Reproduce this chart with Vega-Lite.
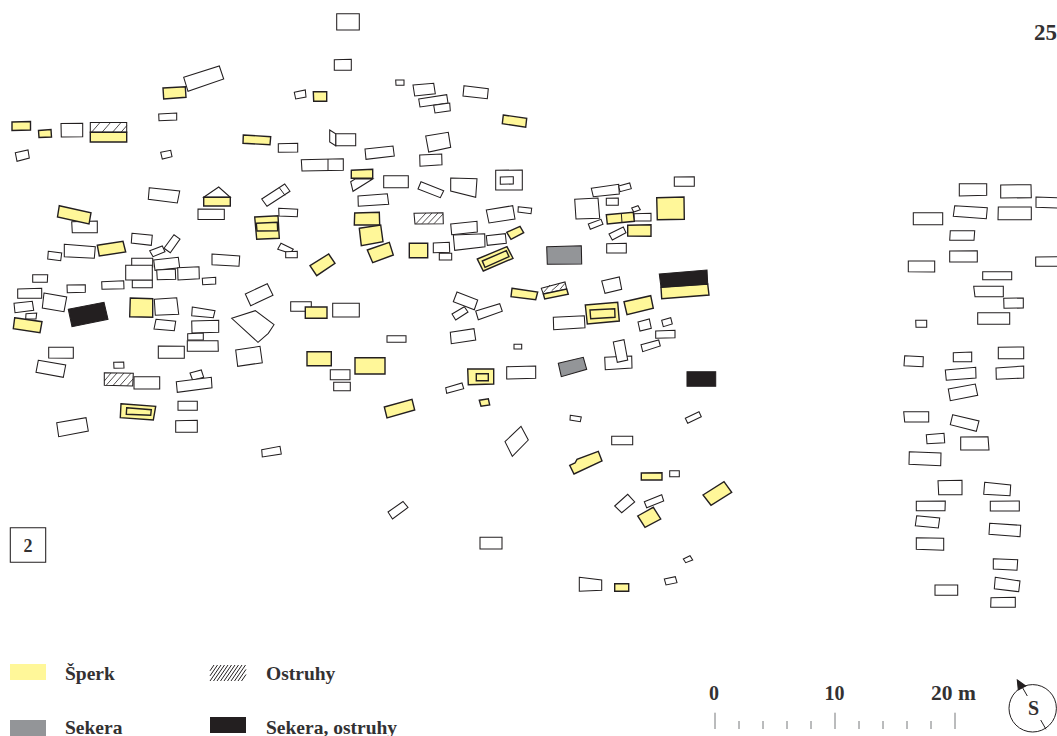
{"$schema":"https://vega.github.io/schema/vega-lite/v6.json","width":1057,"height":736,"padding":0,"autosize":"none","background":"white","config":{"view":{"stroke":null}},"projection":{"type":"identity","scale":1,"translate":[0,0]},"datasets":{"plots":[
{"k":"w","geo":{"type":"Polygon","coordinates":[[[61,123.5],[82.7,123.3],[82.7,136.7],[61.3,137],[61,123.5]]]}},
{"k":"w","geo":{"type":"Polygon","coordinates":[[[15.3,152.7],[28,150],[29.3,158],[17,161.3],[15.3,152.7]]]}},
{"k":"w","geo":{"type":"Polygon","coordinates":[[[183.7,77.3],[219.3,66],[223.7,79],[188,91.3],[183.7,77.3]]]}},
{"k":"w","geo":{"type":"Polygon","coordinates":[[[158.7,114],[176.7,113],[176.7,120],[159,120.7],[158.7,114]]]}},
{"k":"w","geo":{"type":"Polygon","coordinates":[[[160.7,152.3],[170.7,150.3],[172,156.7],[162.3,159],[160.7,152.3]]]}},
{"k":"w","geo":{"type":"Polygon","coordinates":[[[278.3,143.7],[297.7,143.3],[297.7,152],[278.3,152.3],[278.3,143.7]]]}},
{"k":"w","geo":{"type":"Polygon","coordinates":[[[149.3,187.7],[179.7,191],[177.3,203],[148.3,199.3],[149.3,187.7]]]}},
{"k":"w","geo":{"type":"Polygon","coordinates":[[[203.7,197.3],[218.7,187],[230.3,197.3],[203.7,197.3]]]}},
{"k":"w","geo":{"type":"Polygon","coordinates":[[[261.7,199],[284.7,184],[290,191.3],[267,206.3],[261.7,199]]]}},
{"k":"w","geo":{"type":"Polygon","coordinates":[[[294.3,92.3],[305.3,90],[306,97],[295.7,99],[294.3,92.3]]]}},
{"k":"w","geo":{"type":"Polygon","coordinates":[[[198,209],[224.3,209.3],[224.3,219.5],[198,219.5],[198,209]]]}},
{"k":"w","geo":{"type":"Polygon","coordinates":[[[278.7,208.3],[297.7,209.3],[297.3,216.7],[279,216],[278.7,208.3]]]}},
{"k":"w","geo":{"type":"Polygon","coordinates":[[[71.7,221.7],[97.3,221],[97.3,232.7],[72.3,232.7],[71.7,221.7]]]}},
{"k":"w","geo":{"type":"Polygon","coordinates":[[[48.3,251.3],[61.7,253],[60.7,260.7],[47.7,259],[48.3,251.3]]]}},
{"k":"w","geo":{"type":"Polygon","coordinates":[[[64.3,244.3],[95.3,246.7],[94.3,258.3],[64.3,256.7],[64.3,244.3]]]}},
{"k":"w","geo":{"type":"Polygon","coordinates":[[[132,233.3],[152.3,235.3],[151.3,245.3],[131.3,243],[132,233.3]]]}},
{"k":"w","geo":{"type":"Polygon","coordinates":[[[149.7,250.7],[162.3,246],[165,251.7],[153,256.7],[149.7,250.7]]]}},
{"k":"w","geo":{"type":"Polygon","coordinates":[[[164,248.3],[174,234.7],[180,239],[170.3,252.7],[164,248.3]]]}},
{"k":"w","geo":{"type":"Polygon","coordinates":[[[212,254],[239.7,256],[239,266.3],[212,264.7],[212,254]]]}},
{"k":"w","geo":{"type":"Polygon","coordinates":[[[277.7,249.3],[281,243.3],[293.3,249.3],[290,253.3],[277.7,249.3]]]}},
{"k":"w","geo":{"type":"Polygon","coordinates":[[[285.7,251.7],[297.3,251.3],[297.3,257.7],[285.7,257.7],[285.7,251.7]]]}},
{"k":"w","geo":{"type":"Polygon","coordinates":[[[131.7,258.3],[152.7,258.3],[152.7,267],[131.7,267],[131.7,258.3]]]}},
{"k":"w","geo":{"type":"Polygon","coordinates":[[[132.3,280],[152.3,280],[152.3,287.7],[132.3,287.7],[132.3,280]]]}},
{"k":"w","geo":{"type":"Polygon","coordinates":[[[125.7,265.3],[152.3,265.3],[152.3,280],[125.7,280],[125.7,265.3]]]}},
{"k":"w","geo":{"type":"Polygon","coordinates":[[[153.7,260],[178.3,257.3],[179.7,267.7],[155,270.3],[153.7,260]]]}},
{"k":"w","geo":{"type":"Polygon","coordinates":[[[156.7,270],[175.3,269],[175.7,279.3],[157.3,279.7],[156.7,270]]]}},
{"k":"w","geo":{"type":"Polygon","coordinates":[[[177.7,267.7],[199,266.7],[199.3,278.7],[178,280],[177.7,267.7]]]}},
{"k":"w","geo":{"type":"Polygon","coordinates":[[[202.3,278.3],[215.7,277.3],[215.7,284],[202.7,284.7],[202.3,278.3]]]}},
{"k":"w","geo":{"type":"Polygon","coordinates":[[[32.7,274.7],[47.7,274.7],[47.3,282.3],[32.7,282.3],[32.7,274.7]]]}},
{"k":"w","geo":{"type":"Polygon","coordinates":[[[67,285],[85.3,284.7],[85.3,292.3],[67.3,292.7],[67,285]]]}},
{"k":"w","geo":{"type":"Polygon","coordinates":[[[101.7,281.7],[123.7,280.7],[124,288.7],[102,289.3],[101.7,281.7]]]}},
{"k":"w","geo":{"type":"Polygon","coordinates":[[[17.7,289],[41.7,288.3],[41.7,298.3],[17.7,298.3],[17.7,289]]]}},
{"k":"w","geo":{"type":"Polygon","coordinates":[[[14,303.3],[32.3,301.3],[33.7,310.3],[15,312.7],[14,303.3]]]}},
{"k":"w","geo":{"type":"Polygon","coordinates":[[[44,293],[66.7,297],[64,311.7],[42.3,308],[44,293]]]}},
{"k":"w","geo":{"type":"Polygon","coordinates":[[[154.3,299.3],[176.7,297.7],[178.7,314.3],[155.3,315.3],[154.3,299.3]]]}},
{"k":"w","geo":{"type":"Polygon","coordinates":[[[26,313.7],[36.7,313],[36,319],[25.7,318.7],[26,313.7]]]}},
{"k":"w","geo":{"type":"Polygon","coordinates":[[[192.3,307],[215,310.7],[213.3,317.7],[191.7,315.7],[192.3,307]]]}},
{"k":"w","geo":{"type":"Polygon","coordinates":[[[156,319.3],[175.7,321.3],[174.3,330.7],[154,329],[156,319.3]]]}},
{"k":"w","geo":{"type":"Polygon","coordinates":[[[191.7,321],[218.7,320.3],[218.7,332.3],[192,333],[191.7,321]]]}},
{"k":"w","geo":{"type":"Polygon","coordinates":[[[187.7,333.7],[203.3,333],[203.3,340],[187.7,340],[187.7,333.7]]]}},
{"k":"w","geo":{"type":"Polygon","coordinates":[[[187.3,340.7],[218,340.7],[218.3,351.3],[187.3,351.3],[187.3,340.7]]]}},
{"k":"w","geo":{"type":"Polygon","coordinates":[[[245.3,294],[267.3,283.7],[273,295.3],[250.7,305.7],[245.3,294]]]}},
{"k":"w","geo":{"type":"Polygon","coordinates":[[[231.7,318.3],[255.3,310.7],[274,324.7],[268.3,333.3],[258,342.3],[231.7,318.3]]]}},
{"k":"w","geo":{"type":"Polygon","coordinates":[[[235.7,350],[260,346.3],[262.3,362.7],[237.7,366.3],[235.7,350]]]}},
{"k":"w","geo":{"type":"Polygon","coordinates":[[[48.7,347.3],[73.3,347.3],[73.3,358.3],[48.7,358],[48.7,347.3]]]}},
{"k":"w","geo":{"type":"Polygon","coordinates":[[[38.3,360.3],[65.7,365],[63.3,377.3],[36,372.3],[38.3,360.3]]]}},
{"k":"w","geo":{"type":"Polygon","coordinates":[[[113.7,362.3],[123.7,362],[124,368],[114,368.3],[113.7,362.3]]]}},
{"k":"w","geo":{"type":"Polygon","coordinates":[[[158.3,346],[184.3,346.3],[184.3,358.3],[158.3,358.3],[158.3,346]]]}},
{"k":"w","geo":{"type":"Polygon","coordinates":[[[104.3,372.7],[133.3,373.3],[132.7,386],[104.3,385.3],[104.3,372.7]]]}},
{"k":"w","geo":{"type":"Polygon","coordinates":[[[134,376.7],[159.7,376.7],[159.7,389],[134,389],[134,376.7]]]}},
{"k":"w","geo":{"type":"Polygon","coordinates":[[[190,373],[201.3,370],[203.7,377.3],[192.7,380.3],[190,373]]]}},
{"k":"w","geo":{"type":"Polygon","coordinates":[[[176.3,381.7],[211.3,377.3],[212,387.7],[177.3,392.3],[176.3,381.7]]]}},
{"k":"w","geo":{"type":"Polygon","coordinates":[[[178,401.3],[197.3,401.3],[197.3,410.3],[178,410.3],[178,401.3]]]}},
{"k":"w","geo":{"type":"Polygon","coordinates":[[[175.7,420.7],[197.3,420.3],[197.3,432.3],[175.7,432.3],[175.7,420.7]]]}},
{"k":"w","geo":{"type":"Polygon","coordinates":[[[56.7,422.7],[86,417.7],[88.3,431],[58.7,436.7],[56.7,422.7]]]}},
{"k":"w","geo":{"type":"Polygon","coordinates":[[[261.7,449.7],[280,446.3],[281.3,454],[262.3,457],[261.7,449.7]]]}},
{"k":"w","geo":{"type":"Polygon","coordinates":[[[336.7,13.7],[359.3,13.7],[359.3,30],[336.7,30],[336.7,13.7]]]}},
{"k":"w","geo":{"type":"Polygon","coordinates":[[[334.3,59.7],[351.3,59.3],[351.3,70.3],[334.3,70.3],[334.3,59.7]]]}},
{"k":"w","geo":{"type":"Polygon","coordinates":[[[395.7,80],[404,80],[404,85.3],[396,85.3],[395.7,80]]]}},
{"k":"w","geo":{"type":"Polygon","coordinates":[[[413,85],[433.7,83.3],[435.3,93.7],[414.7,96],[413,85]]]}},
{"k":"w","geo":{"type":"Polygon","coordinates":[[[418.7,99],[446.7,94.7],[448,103],[420,107],[418.7,99]]]}},
{"k":"w","geo":{"type":"Polygon","coordinates":[[[433.7,105.3],[449.7,103],[450.3,110.7],[435,113],[433.7,105.3]]]}},
{"k":"w","geo":{"type":"Polygon","coordinates":[[[464,85.7],[488.3,88.7],[487.3,98.7],[463,96],[464,85.7]]]}},
{"k":"w","geo":{"type":"Polygon","coordinates":[[[425.7,136],[448.3,132.3],[450.7,147.3],[428.7,152],[425.7,136]]]}},
{"k":"w","geo":{"type":"Polygon","coordinates":[[[335.7,133.7],[355.7,133.7],[355.7,145.7],[335.7,145.7],[335.7,133.7]]]}},
{"k":"w","geo":{"type":"Polygon","coordinates":[[[329.7,130],[335.7,133.7],[335.7,145.7],[329.7,142],[329.7,130]]]}},
{"k":"w","geo":{"type":"Polygon","coordinates":[[[365,149],[393,146],[394.3,156],[366,159.3],[365,149]]]}},
{"k":"w","geo":{"type":"Polygon","coordinates":[[[419.7,155],[441.7,154],[442,164.7],[420,166.3],[419.7,155]]]}},
{"k":"w","geo":{"type":"Polygon","coordinates":[[[301.3,159.7],[343.3,158.7],[343.3,170.3],[302,171],[301.3,159.7]]]}},
{"k":"w","geo":{"type":"Polygon","coordinates":[[[350.7,181.7],[355,179],[372.7,179],[353,191.3],[350.7,181.7]]]}},
{"k":"w","geo":{"type":"Polygon","coordinates":[[[383.7,175.7],[408.3,175.7],[408.3,187.7],[383.7,187.7],[383.7,175.7]]]}},
{"k":"w","geo":{"type":"Polygon","coordinates":[[[421,181.7],[443.7,190.7],[440.3,197.7],[418,189],[421,181.7]]]}},
{"k":"w","geo":{"type":"Polygon","coordinates":[[[450.7,178],[477,178.7],[475.7,197.3],[450.7,191],[450.7,178]]]}},
{"k":"w","geo":{"type":"Polygon","coordinates":[[[495.7,170.3],[522.3,170],[522.3,190],[495.7,190],[495.7,170.3]]]}},
{"k":"w","geo":{"type":"Polygon","coordinates":[[[500.3,177],[513.3,176.7],[513.3,184],[500.3,184.3],[500.3,177]]]}},
{"k":"w","geo":{"type":"Polygon","coordinates":[[[358,196],[387.3,193.7],[388.7,204.3],[358.3,206.3],[358,196]]]}},
{"k":"w","geo":{"type":"Polygon","coordinates":[[[414,213.3],[443,212.7],[443.3,223.7],[415,224],[414,213.3]]]}},
{"k":"w","geo":{"type":"Polygon","coordinates":[[[486.3,210],[512.7,205.7],[515,219],[489,223],[486.3,210]]]}},
{"k":"w","geo":{"type":"Polygon","coordinates":[[[518.3,206.7],[531.7,208.3],[531,213.7],[518,212],[518.3,206.7]]]}},
{"k":"w","geo":{"type":"Polygon","coordinates":[[[433.3,243],[449.3,242.3],[449.7,252.3],[433.3,252.7],[433.3,243]]]}},
{"k":"w","geo":{"type":"Polygon","coordinates":[[[439.3,253.3],[451.7,253.3],[451.7,260],[439.3,260],[439.3,253.3]]]}},
{"k":"w","geo":{"type":"Polygon","coordinates":[[[450.7,224],[477,221.3],[477.3,232],[451.7,234.7],[450.7,224]]]}},
{"k":"w","geo":{"type":"Polygon","coordinates":[[[453.3,235],[484.7,233.7],[485,246.7],[454.7,250.3],[453.3,235]]]}},
{"k":"w","geo":{"type":"Polygon","coordinates":[[[486.3,235.7],[505.3,233.7],[506.3,243.3],[487.3,245.3],[486.3,235.7]]]}},
{"k":"w","geo":{"type":"Polygon","coordinates":[[[290.7,301.7],[311.3,301.7],[311.3,311.3],[290.7,311.3],[290.7,301.7]]]}},
{"k":"w","geo":{"type":"Polygon","coordinates":[[[332.7,303.3],[359.3,303.3],[359.3,317],[332.7,317],[332.7,303.3]]]}},
{"k":"w","geo":{"type":"Polygon","coordinates":[[[387,335.7],[406,335.7],[406,342.3],[387,342.3],[387,335.7]]]}},
{"k":"w","geo":{"type":"Polygon","coordinates":[[[330.3,369.7],[350,369.7],[350,379.7],[330.3,379.7],[330.3,369.7]]]}},
{"k":"w","geo":{"type":"Polygon","coordinates":[[[333.7,382.3],[350.3,382.3],[350.3,390.7],[333.7,390.7],[333.7,382.3]]]}},
{"k":"w","geo":{"type":"Polygon","coordinates":[[[457,292],[477.7,300],[474.3,309.7],[453.3,301.7],[457,292]]]}},
{"k":"w","geo":{"type":"Polygon","coordinates":[[[452,314],[464.3,306.7],[468,312],[455.7,320],[452,314]]]}},
{"k":"w","geo":{"type":"Polygon","coordinates":[[[475.7,311],[499.7,303.7],[502.3,311.3],[478.3,319.7],[475.7,311]]]}},
{"k":"w","geo":{"type":"Polygon","coordinates":[[[450.3,332.3],[474,328.7],[475.7,340],[451.3,343.7],[450.3,332.3]]]}},
{"k":"w","geo":{"type":"Polygon","coordinates":[[[514,344.3],[521.7,344.3],[521.7,349],[514,349],[514,344.3]]]}},
{"k":"w","geo":{"type":"Polygon","coordinates":[[[506.7,366.7],[535.7,366],[535.7,378.3],[506.7,379],[506.7,366.7]]]}},
{"k":"w","geo":{"type":"Polygon","coordinates":[[[445.7,387.7],[462,383],[463.7,388.7],[446.7,393.3],[445.7,387.7]]]}},
{"k":"w","geo":{"type":"Polygon","coordinates":[[[505,441.7],[521,426.3],[528.3,440],[512.3,456.3],[505,441.7]]]}},
{"k":"w","geo":{"type":"Polygon","coordinates":[[[591.3,188.3],[618.7,184.3],[619.3,194],[593.3,196.7],[591.3,188.3]]]}},
{"k":"w","geo":{"type":"Polygon","coordinates":[[[618.7,186],[629.7,183],[631.3,188.7],[620,191.7],[618.7,186]]]}},
{"k":"w","geo":{"type":"Polygon","coordinates":[[[674.3,177],[694.3,176.7],[694.3,186.3],[674.3,186.3],[674.3,177]]]}},
{"k":"w","geo":{"type":"Polygon","coordinates":[[[574.7,199.3],[598,198],[599.7,218.3],[576,219],[574.7,199.3]]]}},
{"k":"w","geo":{"type":"Polygon","coordinates":[[[606.3,198.3],[618.3,198],[618.3,205.3],[606.3,205.3],[606.3,198.3]]]}},
{"k":"w","geo":{"type":"Polygon","coordinates":[[[631.7,208],[638,205.7],[640.3,209.7],[633.7,212],[631.7,208]]]}},
{"k":"w","geo":{"type":"Polygon","coordinates":[[[634,213.7],[651,213.3],[651,221],[634,221],[634,213.7]]]}},
{"k":"w","geo":{"type":"Polygon","coordinates":[[[588.3,224],[601,219.3],[603,224.3],[590.3,229.3],[588.3,224]]]}},
{"k":"w","geo":{"type":"Polygon","coordinates":[[[609,234],[623.3,227],[626,232.7],[612.3,240],[609,234]]]}},
{"k":"w","geo":{"type":"Polygon","coordinates":[[[606.7,243.7],[626.3,243.3],[626.3,253],[606.7,253],[606.7,243.7]]]}},
{"k":"w","geo":{"type":"Polygon","coordinates":[[[541.3,288.3],[565,282],[566.7,289],[543.3,294],[541.3,288.3]]]}},
{"k":"w","geo":{"type":"Polygon","coordinates":[[[601.7,281],[619.3,277],[621.7,289.3],[605,293.3],[601.7,281]]]}},
{"k":"w","geo":{"type":"Polygon","coordinates":[[[553.3,317.3],[584.3,315.7],[585,327.7],[553.7,329.7],[553.3,317.3]]]}},
{"k":"w","geo":{"type":"Polygon","coordinates":[[[638,322],[649.3,319],[651.3,328.3],[640,331],[638,322]]]}},
{"k":"w","geo":{"type":"Polygon","coordinates":[[[661.7,320.3],[670.7,317.7],[672.3,324],[663.3,326.7],[661.7,320.3]]]}},
{"k":"w","geo":{"type":"Polygon","coordinates":[[[655.7,331],[675,330.3],[675,337.7],[655.7,338.3],[655.7,331]]]}},
{"k":"w","geo":{"type":"Polygon","coordinates":[[[641,344.7],[658.7,340],[660.3,346],[642.7,351.7],[641,344.7]]]}},
{"k":"w","geo":{"type":"Polygon","coordinates":[[[604.7,357.3],[631.7,356],[632,368],[605.3,369.7],[604.7,357.3]]]}},
{"k":"w","geo":{"type":"Polygon","coordinates":[[[613.3,342],[624,339.7],[627.7,360],[617.3,362.3],[613.3,342]]]}},
{"k":"w","geo":{"type":"Polygon","coordinates":[[[570.3,415.3],[581.3,417],[580.3,421.7],[570,420],[570.3,415.3]]]}},
{"k":"w","geo":{"type":"Polygon","coordinates":[[[685.3,418.3],[699,411.7],[701.3,416.7],[687.7,423.3],[685.3,418.3]]]}},
{"k":"w","geo":{"type":"Polygon","coordinates":[[[611.7,436.3],[632.7,436.3],[632.7,444.7],[611.7,444.7],[611.7,436.3]]]}},
{"k":"w","geo":{"type":"Polygon","coordinates":[[[669.7,470.7],[679.3,470.7],[679.3,476.7],[669.7,476.7],[669.7,470.7]]]}},
{"k":"w","geo":{"type":"Polygon","coordinates":[[[614.7,506],[627.7,494.3],[634.7,502],[621.7,512.7],[614.7,506]]]}},
{"k":"w","geo":{"type":"Polygon","coordinates":[[[644.3,501.7],[661.7,494.7],[663.7,501],[646.7,507.7],[644.3,501.7]]]}},
{"k":"w","geo":{"type":"Polygon","coordinates":[[[480,537.3],[502,537.3],[502,549],[480,549],[480,537.3]]]}},
{"k":"w","geo":{"type":"Polygon","coordinates":[[[683.3,559],[690,555.7],[692.7,560],[685.7,562.7],[683.3,559]]]}},
{"k":"w","geo":{"type":"Polygon","coordinates":[[[664.3,579],[675.3,576.7],[677,582.7],[666,585],[664.3,579]]]}},
{"k":"w","geo":{"type":"Polygon","coordinates":[[[579.3,577.3],[601.7,580],[601.7,590.3],[579.3,591.3],[579.3,577.3]]]}},
{"k":"w","geo":{"type":"Polygon","coordinates":[[[388,512],[403,501.5],[408,507.5],[392.5,519],[388,512]]]}},
{"k":"w","geo":{"type":"Polygon","coordinates":[[[959.3,183.7],[986.7,183.7],[986.7,195.3],[959.3,196],[959.3,183.7]]]}},
{"k":"w","geo":{"type":"Polygon","coordinates":[[[1000.7,185],[1031,184.7],[1031.3,197.7],[1000.7,198],[1000.7,185]]]}},
{"k":"w","geo":{"type":"Polygon","coordinates":[[[1036,197],[1058,197.7],[1058,208],[1036,207.3],[1036,197]]]}},
{"k":"w","geo":{"type":"Polygon","coordinates":[[[954.7,205.7],[987.3,207.7],[986.3,218.7],[953.3,216.3],[954.7,205.7]]]}},
{"k":"w","geo":{"type":"Polygon","coordinates":[[[998.3,207],[1031.3,207],[1031.3,219.7],[998,219.7],[998.3,207]]]}},
{"k":"w","geo":{"type":"Polygon","coordinates":[[[913.3,212.7],[942.7,212.7],[942.7,224.7],[913.3,224.7],[913.3,212.7]]]}},
{"k":"w","geo":{"type":"Polygon","coordinates":[[[950.3,230.7],[974.7,230.7],[974,240.3],[949.7,240.3],[950.3,230.7]]]}},
{"k":"w","geo":{"type":"Polygon","coordinates":[[[949.7,251],[977.3,250.7],[977.3,262],[949.7,262],[949.7,251]]]}},
{"k":"w","geo":{"type":"Polygon","coordinates":[[[908.3,261],[934.7,261],[934.7,272],[908.3,271.7],[908.3,261]]]}},
{"k":"w","geo":{"type":"Polygon","coordinates":[[[1035.7,257],[1058,256.7],[1058,266.3],[1035.7,266.3],[1035.7,257]]]}},
{"k":"w","geo":{"type":"Polygon","coordinates":[[[982.7,271.7],[1011.7,271.7],[1011.7,279.7],[982.7,279.7],[982.7,271.7]]]}},
{"k":"w","geo":{"type":"Polygon","coordinates":[[[973.7,286.3],[1003.3,286.3],[1003.3,296.7],[975,296.7],[973.7,286.3]]]}},
{"k":"w","geo":{"type":"Polygon","coordinates":[[[1003.7,298.3],[1023.3,298],[1023.3,308],[1004,308.3],[1003.7,298.3]]]}},
{"k":"w","geo":{"type":"Polygon","coordinates":[[[977.7,312.7],[1009.7,312.7],[1009.7,324.3],[977.7,324.3],[977.7,312.7]]]}},
{"k":"w","geo":{"type":"Polygon","coordinates":[[[915.7,320.3],[926.7,320.3],[926.7,327.3],[916,327.3],[915.7,320.3]]]}},
{"k":"w","geo":{"type":"Polygon","coordinates":[[[904.7,355.7],[923.3,356.7],[923,366.7],[904,365.7],[904.7,355.7]]]}},
{"k":"w","geo":{"type":"Polygon","coordinates":[[[953.3,352.7],[971.7,352],[971.7,361.7],[953.3,361.7],[953.3,352.7]]]}},
{"k":"w","geo":{"type":"Polygon","coordinates":[[[998.3,347.3],[1023.7,347],[1023.7,358.7],[998.3,358.7],[998.3,347.3]]]}},
{"k":"w","geo":{"type":"Polygon","coordinates":[[[945.3,370],[975.7,367.3],[976,378],[946.3,380.3],[945.3,370]]]}},
{"k":"w","geo":{"type":"Polygon","coordinates":[[[996,368],[1023.7,366],[1023.7,378],[996.3,379.3],[996,368]]]}},
{"k":"w","geo":{"type":"Polygon","coordinates":[[[948.3,389],[975.3,384],[977.7,395.3],[950.3,400.7],[948.3,389]]]}},
{"k":"w","geo":{"type":"Polygon","coordinates":[[[903.7,411.7],[928.7,411.7],[928.7,422],[904.7,422],[903.7,411.7]]]}},
{"k":"w","geo":{"type":"Polygon","coordinates":[[[952.7,414.7],[979,421],[976.3,431.3],[950.3,424.7],[952.7,414.7]]]}},
{"k":"w","geo":{"type":"Polygon","coordinates":[[[926.3,434.7],[944,433.3],[944.7,442.7],[927,443.7],[926.3,434.7]]]}},
{"k":"w","geo":{"type":"Polygon","coordinates":[[[960.7,437],[988,436.7],[989,450],[960.7,450],[960.7,437]]]}},
{"k":"w","geo":{"type":"Polygon","coordinates":[[[909.3,451.7],[941,453],[940.7,465.7],[909,464.3],[909.3,451.7]]]}},
{"k":"w","geo":{"type":"Polygon","coordinates":[[[938,480.7],[962,480.3],[962,494.7],[938.7,494.7],[938,480.7]]]}},
{"k":"w","geo":{"type":"Polygon","coordinates":[[[984.7,482.3],[1010.7,485],[1010,495.7],[983.7,494.3],[984.7,482.3]]]}},
{"k":"w","geo":{"type":"Polygon","coordinates":[[[916.3,501.3],[945.3,501],[945,510.7],[916.3,510.7],[916.3,501.3]]]}},
{"k":"w","geo":{"type":"Polygon","coordinates":[[[990.3,501.3],[1019.3,501],[1019.3,511],[990.3,511],[990.3,501.3]]]}},
{"k":"w","geo":{"type":"Polygon","coordinates":[[[916.7,515.7],[939.7,518],[938.3,528],[915.3,525.7],[916.7,515.7]]]}},
{"k":"w","geo":{"type":"Polygon","coordinates":[[[989.7,523.3],[1020.7,525.3],[1020,536.7],[989,534.3],[989.7,523.3]]]}},
{"k":"w","geo":{"type":"Polygon","coordinates":[[[916.3,537.7],[943.7,538.3],[943.7,550.3],[916.3,549.3],[916.3,537.7]]]}},
{"k":"w","geo":{"type":"Polygon","coordinates":[[[993.3,558.7],[1017.7,559.7],[1017,570.3],[993.3,569],[993.3,558.7]]]}},
{"k":"w","geo":{"type":"Polygon","coordinates":[[[995.3,577.3],[1020,581],[1018.7,591.7],[994.3,588.7],[995.3,577.3]]]}},
{"k":"w","geo":{"type":"Polygon","coordinates":[[[935,585],[957.7,585],[957.7,595.3],[935,595.3],[935,585]]]}},
{"k":"w","geo":{"type":"Polygon","coordinates":[[[991,597.7],[1015.3,597.3],[1015.3,607.3],[990.7,607.3],[991,597.7]]]}},
{"k":"w","geo":{"type":"Polygon","coordinates":[[[10.3,527.7],[45.7,527.7],[45.7,562.3],[10.3,562.3],[10.3,527.7]]]}},
{"k":"w","geo":{"type":"Polygon","coordinates":[[[90.3,122.5],[126.7,122.5],[126.7,132.3],[90.3,132.3],[90.3,122.5]]]}},
{"k":"y","geo":{"type":"Polygon","coordinates":[[[90.3,132.3],[126.7,132.3],[126.7,142],[90.3,142],[90.3,132.3]]]}},
{"k":"y","geo":{"type":"Polygon","coordinates":[[[12,122],[30.5,121.5],[30.5,130],[12,130.5],[12,122]]]}},
{"k":"y","geo":{"type":"Polygon","coordinates":[[[38.5,130.5],[51,129.5],[51.5,137],[39,137.5],[38.5,130.5]]]}},
{"k":"y","geo":{"type":"Polygon","coordinates":[[[163,88],[185.3,86.7],[186,97.3],[163.7,99],[163,88]]]}},
{"k":"y","geo":{"type":"Polygon","coordinates":[[[243.3,135],[270.7,136.7],[270,144.7],[243,143.3],[243.3,135]]]}},
{"k":"y","geo":{"type":"Polygon","coordinates":[[[203.7,197.3],[230.3,197.3],[230.3,206],[203.7,206],[203.7,197.3]]]}},
{"k":"y","geo":{"type":"Polygon","coordinates":[[[59.3,205.7],[91,212.7],[89,224],[57.5,217],[59.3,205.7]]]}},
{"k":"y","geo":{"type":"Polygon","coordinates":[[[254.7,217],[278,215.7],[279.3,238.3],[256.7,239.3],[254.7,217]]]}},
{"k":"y","geo":{"type":"Polygon","coordinates":[[[256.3,223.3],[277.3,222.3],[277.7,230.7],[257,231],[256.3,223.3]]]}},
{"k":"y","geo":{"type":"Polygon","coordinates":[[[97.3,245.3],[123,241.3],[125.7,252],[99.3,256],[97.3,245.3]]]}},
{"k":"y","geo":{"type":"Polygon","coordinates":[[[130.3,298],[152.7,298.7],[152.7,317.3],[129.7,316.7],[130.3,298]]]}},
{"k":"y","geo":{"type":"Polygon","coordinates":[[[14.7,317.7],[42,321.7],[40,332.7],[13.3,328.7],[14.7,317.7]]]}},
{"k":"y","geo":{"type":"Polygon","coordinates":[[[121,403.7],[155.7,406.3],[153.3,420],[120.3,417.7],[121,403.7]]]}},
{"k":"y","geo":{"type":"Polygon","coordinates":[[[126.7,407.7],[151.3,409.7],[150.7,415.3],[126.3,414.3],[126.7,407.7]]]}},
{"k":"y","geo":{"type":"Polygon","coordinates":[[[313.3,91.7],[326.7,91.7],[326.7,101.3],[313.7,101.3],[313.3,91.7]]]}},
{"k":"y","geo":{"type":"Polygon","coordinates":[[[503.3,115],[526.7,118.3],[525.7,127.3],[502.3,123.7],[503.3,115]]]}},
{"k":"y","geo":{"type":"Polygon","coordinates":[[[351.3,170.3],[372.7,169.3],[372.7,178.3],[351.3,178.3],[351.3,170.3]]]}},
{"k":"y","geo":{"type":"Polygon","coordinates":[[[354.7,213],[379.3,212.3],[379.7,225],[354.3,225],[354.7,213]]]}},
{"k":"y","geo":{"type":"Polygon","coordinates":[[[359.3,228.3],[380.7,225],[383,241.7],[361.3,245.7],[359.3,228.3]]]}},
{"k":"y","geo":{"type":"Polygon","coordinates":[[[367.3,250],[389.3,242.3],[393.3,255],[372.7,262.7],[367.3,250]]]}},
{"k":"y","geo":{"type":"Polygon","coordinates":[[[409.3,243.3],[427.7,243.3],[427.7,257.7],[409.3,257.7],[409.3,243.3]]]}},
{"k":"y","geo":{"type":"Polygon","coordinates":[[[506.7,232.3],[520,226.3],[523.7,232.7],[511,239.3],[506.7,232.3]]]}},
{"k":"y","geo":{"type":"Polygon","coordinates":[[[477.3,259],[507,246.7],[513,258.3],[483.3,271],[477.3,259]]]}},
{"k":"y","geo":{"type":"Polygon","coordinates":[[[482.3,261],[506.3,250.7],[509,256.7],[485,267.3],[482.3,261]]]}},
{"k":"y","geo":{"type":"Polygon","coordinates":[[[310,265.7],[328.7,254],[335,263.3],[316.7,275.7],[310,265.7]]]}},
{"k":"y","geo":{"type":"Polygon","coordinates":[[[305.3,307],[327,307],[327,318.3],[305.3,318.3],[305.3,307]]]}},
{"k":"y","geo":{"type":"Polygon","coordinates":[[[307,351.7],[331.3,351.7],[331.3,365.7],[307,365.7],[307,351.7]]]}},
{"k":"y","geo":{"type":"Polygon","coordinates":[[[355,357.7],[385,357.7],[385,374],[355,374],[355,357.7]]]}},
{"k":"y","geo":{"type":"Polygon","coordinates":[[[384.3,407],[412,399.3],[414.7,410],[387,418],[384.3,407]]]}},
{"k":"y","geo":{"type":"Polygon","coordinates":[[[467.7,369],[493.7,369],[493.7,384],[468.3,384.7],[467.7,369]]]}},
{"k":"y","geo":{"type":"Polygon","coordinates":[[[476.3,373.7],[488.3,373.7],[488.3,380.7],[476.3,380.7],[476.3,373.7]]]}},
{"k":"y","geo":{"type":"Polygon","coordinates":[[[479.3,400.3],[488.3,398.7],[489.7,405],[481,406.3],[479.3,400.3]]]}},
{"k":"y","geo":{"type":"Polygon","coordinates":[[[512,288.3],[537.7,292],[535.7,299.7],[511,296.7],[512,288.3]]]}},
{"k":"y","geo":{"type":"Polygon","coordinates":[[[656.7,197.7],[684,197],[684.3,219.3],[657.3,219.7],[656.7,197.7]]]}},
{"k":"y","geo":{"type":"Polygon","coordinates":[[[606.3,214.7],[633.3,212.3],[634.3,221.3],[607.3,224],[606.3,214.7]]]}},
{"k":"y","geo":{"type":"Polygon","coordinates":[[[627.7,225.3],[651,224.7],[651,236.3],[627.7,236],[627.7,225.3]]]}},
{"k":"y","geo":{"type":"Polygon","coordinates":[[[543.3,294],[566.7,289],[568.3,294.3],[544.7,299],[543.3,294]]]}},
{"k":"y","geo":{"type":"Polygon","coordinates":[[[661,287.3],[707.7,284],[709,295],[661.7,298.7],[661,287.3]]]}},
{"k":"y","geo":{"type":"Polygon","coordinates":[[[624,301.7],[650.7,295.7],[653.3,308.3],[627,314.7],[624,301.7]]]}},
{"k":"y","geo":{"type":"Polygon","coordinates":[[[585.3,305],[617.7,302.3],[619.3,321],[587.3,324],[585.3,305]]]}},
{"k":"y","geo":{"type":"Polygon","coordinates":[[[590,310],[614.7,308.7],[615,317.3],[590.7,318.7],[590,310]]]}},
{"k":"y","geo":{"type":"Polygon","coordinates":[[[569.7,465.3],[575,463],[577,459.3],[598.3,451.3],[602,461],[574,474],[569.7,465.3]]]}},
{"k":"y","geo":{"type":"Polygon","coordinates":[[[641.3,473],[662,472.7],[662,480],[641.3,480],[641.3,473]]]}},
{"k":"y","geo":{"type":"Polygon","coordinates":[[[703,495],[724,481.7],[731.7,492.3],[711,505.3],[703,495]]]}},
{"k":"y","geo":{"type":"Polygon","coordinates":[[[637.7,516],[653.3,507.3],[660.7,519],[645,527.3],[637.7,516]]]}},
{"k":"y","geo":{"type":"Polygon","coordinates":[[[614.7,583.7],[628.7,583.7],[628.7,591.3],[614.7,591.3],[614.7,583.7]]]}},
{"k":"g","geo":{"type":"Polygon","coordinates":[[[546.7,246.7],[581.3,245.7],[581.7,264],[547.3,264.3],[546.7,246.7]]]}},
{"k":"g","geo":{"type":"Polygon","coordinates":[[[558.3,363.3],[583.3,357.3],[586.7,369.3],[561.3,376.7],[558.3,363.3]]]}},
{"k":"b","geo":{"type":"Polygon","coordinates":[[[68.3,309.3],[104,302.3],[108,319.3],[72,326.7],[68.3,309.3]]]}},
{"k":"b","geo":{"type":"Polygon","coordinates":[[[659.3,274],[707,270],[707.7,284],[661,287.3],[659.3,274]]]}},
{"k":"b","geo":{"type":"Polygon","coordinates":[[[687,371.7],[715.7,371.7],[715.7,386.3],[687,386.3],[687,371.7]]]}},
{"k":"b","geo":{"type":"Polygon","coordinates":[[[1017.3,680],[1025.7,686],[1018.3,690],[1017.3,680]]]}}
],"swatches":[
{"k":"y","geo":{"type":"Polygon","coordinates":[[[10,664],[46,664],[46,680],[10,680],[10,664]]]}},
{"k":"g","geo":{"type":"Polygon","coordinates":[[[10,720],[46,720],[46,736],[10,736],[10,720]]]}},
{"k":"b","geo":{"type":"Polygon","coordinates":[[[210,717],[246,717],[246,733],[210,733],[210,717]]]}}
],"lines":[
{"k":"d","w":1,"geo":{"type":"MultiLineString","coordinates":[[[279.3,187.7],[285,195.3]],[[328,159],[328,170.3]],[[621.3,213],[622,222.7]],[[1027.3,696],[1021,685]],[[1040.7,720],[1046,729.3]]]}},
{"k":"d","w":0.8,"geo":{"type":"MultiLineString","coordinates":[[[91.5,132.3],[100,122.5]],[[102,132.3],[110.5,122.5]],[[112.5,132.3],[121,122.5]],[[121,132.3],[126.7,125.7]],[[416,223.7],[426,213]],[[422,223.7],[432,213]],[[428,223.7],[438,213]],[[434,223.7],[443,214]],[[104.3,381],[111,373]],[[106,385.5],[117,373]],[[113,385.5],[124,373]],[[120,385.5],[131,373.2]],[[127,385.7],[133,379]],[[543.3,292.7],[550,285]],[[551.7,290.7],[559.3,284]],[[560,289.3],[565,283.3]]]}},
{"k":"d","w":1,"geo":{"type":"MultiLineString","coordinates":[[[210,670.8],[214,665]],[[210,675.9],[217.5,665]],[[210,681],[221,665]],[[213.5,681],[224.5,665]],[[217,681],[228,665]],[[220.5,681],[231.5,665]],[[224,681],[235,665]],[[227.5,681],[238.5,665]],[[231,681],[242,665]],[[234.5,681],[245.5,665]],[[238,681],[246,669.4]],[[241.5,681],[246,674.5]]]}},
{"k":"t","w":1,"geo":{"type":"MultiLineString","coordinates":[[[715,712.7],[715,729]],[[835,712.7],[835,729]],[[955,712.7],[955,729]],[[739,721],[739,729]],[[763,721],[763,729]],[[787,721],[787,729]],[[811,721],[811,729]],[[859,721],[859,729]],[[883,721],[883,729]],[[907,721],[907,729]],[[931,721],[931,729]]]}}
],"labels":[
{"t":"Šperk","lon":65,"lat":679.5,"s":19.5},
{"t":"Sekera","lon":65,"lat":733.5,"s":19.5},
{"t":"Ostruhy","lon":266,"lat":679.5,"s":19.5},
{"t":"Sekera, ostruhy","lon":266,"lat":733.5,"s":19.5},
{"t":"2","lon":23.5,"lat":552,"s":18},
{"t":"25","lon":1034,"lat":40,"s":23},
{"t":"0","lon":709,"lat":700,"s":20},
{"t":"10","lon":824.5,"lat":700,"s":20},
{"t":"20 m","lon":931,"lat":700,"s":21.5},
{"t":"S","lon":1028,"lat":714.5,"s":20}
],"compass":[{"lon":1032.7,"lat":708.3}]},
"layer":[
{"data":{"name":"plots"},"mark":{"type":"geoshape","stroke":"#231f20"},"encoding":{"shape":{"field":"geo","type":"geojson"},"strokeWidth":{"condition":{"test":"datum.k==='y'","value":1.4},"value":1.05},"fill":{"field":"k","type":"nominal","legend":null,"scale":{"domain":["w","y","g","b"],"range":["#ffffff","#fff799","#939598","#231f20"]}}}},
{"data":{"name":"swatches"},"mark":{"type":"geoshape","strokeWidth":0},"encoding":{"shape":{"field":"geo","type":"geojson"},"fill":{"field":"k","type":"nominal","legend":null,"scale":{"domain":["y","g","b"],"range":["#fff799","#939598","#231f20"]}}}},
{"data":{"name":"lines"},"mark":{"type":"geoshape","filled":false},"encoding":{"shape":{"field":"geo","type":"geojson"},"strokeWidth":{"field":"w","type":"quantitative","scale":null},"stroke":{"field":"k","type":"nominal","legend":null,"scale":{"domain":["d","t"],"range":["#231f20","#77787b"]}}}},
{"data":{"name":"compass"},"mark":{"type":"point","shape":"circle","filled":false,"size":2247,"stroke":"#231f20","strokeWidth":1,"opacity":1},"encoding":{"longitude":{"field":"lon","type":"quantitative"},"latitude":{"field":"lat","type":"quantitative"}}},
{"data":{"name":"labels"},"mark":{"type":"text","align":"left","baseline":"alphabetic","font":"Liberation Serif","fontWeight":"bold","fill":"#333132"},"encoding":{"longitude":{"field":"lon","type":"quantitative"},"latitude":{"field":"lat","type":"quantitative"},"text":{"field":"t","type":"nominal"},"size":{"field":"s","type":"quantitative","scale":null}}}
]}
